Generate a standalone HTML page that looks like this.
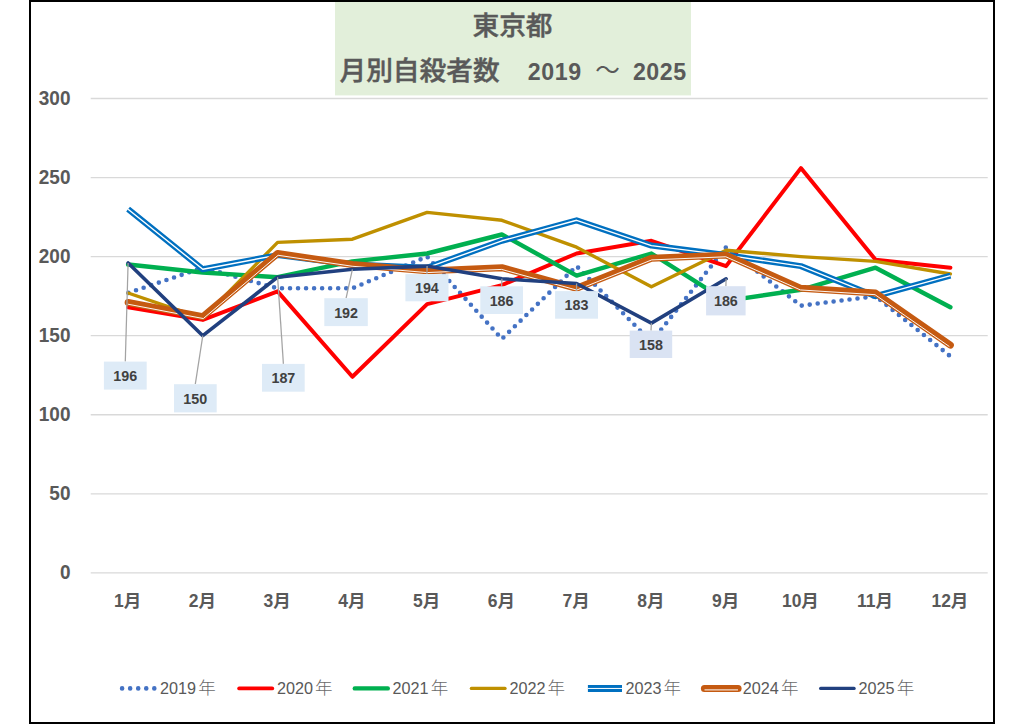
<!DOCTYPE html>
<html lang="ja"><head><meta charset="utf-8"><title>東京都 月別自殺者数 2019 ～ 2025</title>
<style>
html,body{margin:0;padding:0;background:#fff;}
body{width:1024px;height:724px;overflow:hidden;position:relative;}
svg{display:block;position:absolute;left:0;top:0;}
text{font-family:"Liberation Sans","Noto Sans CJK JP",sans-serif;}
</style></head><body>
<svg width="1024" height="724" viewBox="0 0 1024 724">
<rect x="0" y="0" width="1024" height="724" fill="#fff"/>

<rect x="335" y="2" width="356" height="93.4" fill="#e2efda"/>
<text x="512.5" y="34.5" text-anchor="middle" font-size="26.7" font-weight="500" fill="#595959" stroke="#595959" stroke-width="0.45">東京都</text>
<text x="339.5" y="79.5" font-size="26.7" font-weight="500" fill="#595959" stroke="#595959" stroke-width="0.45">月別自殺者数</text>
<text x="527.8" y="80" font-size="23.2" letter-spacing="0.55" font-weight="bold" fill="#595959">2019</text>
<text x="595.3" y="78.8" font-size="24.6" fill="#595959">～</text>
<text x="632.9" y="80" font-size="23.2" letter-spacing="0.55" font-weight="bold" fill="#595959">2025</text>
<line x1="90.7" y1="572.90" x2="987.7" y2="572.90" stroke="#d9d9d9" stroke-width="1.3"/>
<text transform="translate(70.5 579.3) scale(1 1.08)" text-anchor="end" font-size="19" font-weight="bold" fill="#595959">0</text>
<line x1="90.7" y1="493.83" x2="987.7" y2="493.83" stroke="#d9d9d9" stroke-width="1.3"/>
<text transform="translate(70.5 500.2) scale(1 1.08)" text-anchor="end" font-size="19" font-weight="bold" fill="#595959">50</text>
<line x1="90.7" y1="414.77" x2="987.7" y2="414.77" stroke="#d9d9d9" stroke-width="1.3"/>
<text transform="translate(70.5 421.2) scale(1 1.08)" text-anchor="end" font-size="19" font-weight="bold" fill="#595959">100</text>
<line x1="90.7" y1="335.70" x2="987.7" y2="335.70" stroke="#d9d9d9" stroke-width="1.3"/>
<text transform="translate(70.5 342.1) scale(1 1.08)" text-anchor="end" font-size="19" font-weight="bold" fill="#595959">150</text>
<line x1="90.7" y1="256.64" x2="987.7" y2="256.64" stroke="#d9d9d9" stroke-width="1.3"/>
<text transform="translate(70.5 263.0) scale(1 1.08)" text-anchor="end" font-size="19" font-weight="bold" fill="#595959">200</text>
<line x1="90.7" y1="177.57" x2="987.7" y2="177.57" stroke="#d9d9d9" stroke-width="1.3"/>
<text transform="translate(70.5 184.0) scale(1 1.08)" text-anchor="end" font-size="19" font-weight="bold" fill="#595959">250</text>
<line x1="90.7" y1="98.51" x2="987.7" y2="98.51" stroke="#d9d9d9" stroke-width="1.3"/>
<text transform="translate(70.5 104.9) scale(1 1.08)" text-anchor="end" font-size="19" font-weight="bold" fill="#595959">300</text>
<text x="127.6" y="606.6" text-anchor="middle" font-size="17.5" font-weight="bold" fill="#595959">1月</text>
<text x="202.3" y="606.6" text-anchor="middle" font-size="17.5" font-weight="bold" fill="#595959">2月</text>
<text x="277.1" y="606.6" text-anchor="middle" font-size="17.5" font-weight="bold" fill="#595959">3月</text>
<text x="351.9" y="606.6" text-anchor="middle" font-size="17.5" font-weight="bold" fill="#595959">4月</text>
<text x="426.6" y="606.6" text-anchor="middle" font-size="17.5" font-weight="bold" fill="#595959">5月</text>
<text x="501.4" y="606.6" text-anchor="middle" font-size="17.5" font-weight="bold" fill="#595959">6月</text>
<text x="576.1" y="606.6" text-anchor="middle" font-size="17.5" font-weight="bold" fill="#595959">7月</text>
<text x="650.9" y="606.6" text-anchor="middle" font-size="17.5" font-weight="bold" fill="#595959">8月</text>
<text x="725.6" y="606.6" text-anchor="middle" font-size="17.5" font-weight="bold" fill="#595959">9月</text>
<text x="800.4" y="606.6" text-anchor="middle" font-size="17.5" font-weight="bold" fill="#595959">10月</text>
<text x="875.1" y="606.6" text-anchor="middle" font-size="17.5" font-weight="bold" fill="#595959">11月</text>
<text x="949.9" y="606.6" text-anchor="middle" font-size="17.5" font-weight="bold" fill="#595959">12月</text>
<polyline points="128.1,293.0 202.8,267.7 277.6,288.3 352.4,288.3 427.1,256.6 501.9,338.9 576.6,266.1 651.4,342.0 726.1,247.2 800.9,305.7 875.6,296.2 950.4,356.3" fill="none" stroke-linejoin="round" stroke-linecap="round" stroke="#4472c4" stroke-width="4.6" stroke-dasharray="0 8.025" stroke-dashoffset="-0.35"/>
<polyline points="128.1,307.2 202.8,319.9 277.6,291.4 352.4,376.8 427.1,304.1 501.9,285.1 576.6,253.5 651.4,240.8 726.1,266.1 800.9,168.1 875.6,259.8 950.4,267.7" fill="none" stroke-linejoin="round" stroke-linecap="round" stroke="#ff0000" stroke-width="4.0"/>
<polyline points="128.1,264.5 202.8,272.5 277.6,277.2 352.4,261.4 427.1,253.5 501.9,234.5 576.6,275.6 651.4,253.5 726.1,300.9 800.9,289.8 875.6,267.7 950.4,307.2" fill="none" stroke-linejoin="round" stroke-linecap="round" stroke="#00b050" stroke-width="4.4"/>
<polyline points="128.1,293.0 202.8,318.3 277.6,242.4 352.4,239.2 427.1,212.4 501.9,220.3 576.6,247.2 651.4,286.7 726.1,250.3 800.9,256.6 875.6,261.4 950.4,274.0" fill="none" stroke-linejoin="round" stroke-linecap="round" stroke="#bf9000" stroke-width="3.4"/>
<polyline points="128.1,209.2 202.8,269.3 277.6,255.1 352.4,264.5 427.1,267.7 501.9,240.8 576.6,220.3 651.4,245.6 726.1,255.1 800.9,266.1 875.6,296.2 950.4,275.6" fill="none" stroke="#0070c0" stroke-width="6" stroke-linejoin="round" stroke-linecap="butt"/>
<polyline points="128.1,209.2 202.8,269.3 277.6,255.1 352.4,264.5 427.1,267.7 501.9,240.8 576.6,220.3 651.4,245.6 726.1,255.1 800.9,266.1 875.6,296.2 950.4,275.6" fill="none" stroke="#ffffff" stroke-width="1.4" stroke-linejoin="round" stroke-linecap="butt"/>
<polyline points="128.1,302.5 202.8,316.7 277.6,253.5 352.4,264.5 427.1,270.9 501.9,267.7 576.6,288.3 651.4,258.2 726.1,255.1 800.9,288.3 875.6,293.0 950.4,345.2" fill="none" stroke-linejoin="round" stroke-linecap="round" stroke="#c55a11" stroke-width="6.9"/>
<polyline points="127.78,304.17 203.33,318.55 278.11,255.27 352.15,266.24 427.06,272.57 501.66,269.42 576.70,290.06 651.71,259.91 725.77,256.77 800.44,289.94 875.02,294.68 949.38,346.59" fill="none" stroke="#ffffff" stroke-width="1.0" stroke-opacity="0.95" stroke-linejoin="round"/>
<polyline points="128.1,263.0 202.8,335.7 277.6,277.2 352.4,269.3 427.1,266.1 501.9,278.8 576.6,283.5 651.4,323.1 726.1,278.8" fill="none" stroke-linejoin="round" stroke-linecap="round" stroke="#21407f" stroke-width="3.6"/>
<line x1="125.3" y1="361.6" x2="128.1" y2="263.0" stroke="#a3a3a3" stroke-width="1.25"/>
<line x1="195.3" y1="384.2" x2="202.8" y2="335.7" stroke="#a3a3a3" stroke-width="1.25"/>
<line x1="283.4" y1="363.9" x2="277.6" y2="277.2" stroke="#a3a3a3" stroke-width="1.25"/>
<line x1="346.1" y1="298.2" x2="352.4" y2="269.3" stroke="#a3a3a3" stroke-width="1.25"/>
<line x1="426.9" y1="274.1" x2="427.1" y2="266.1" stroke="#a3a3a3" stroke-width="1.25"/>
<line x1="501.6" y1="286.3" x2="501.9" y2="278.8" stroke="#a3a3a3" stroke-width="1.25"/>
<line x1="576.5" y1="291.1" x2="576.6" y2="283.5" stroke="#a3a3a3" stroke-width="1.25"/>
<line x1="651.0" y1="330.6" x2="651.4" y2="323.1" stroke="#a3a3a3" stroke-width="1.25"/>
<line x1="725.9" y1="286.2" x2="726.1" y2="278.8" stroke="#a3a3a3" stroke-width="1.25"/>
<rect x="103.9" y="361.6" width="42.8" height="28.0" fill="#deebf7"/>
<text x="125.3" y="381.1" text-anchor="middle" font-size="14.3" font-weight="bold" fill="#404040">196</text>
<rect x="174.0" y="384.2" width="42.7" height="28.2" fill="#deebf7"/>
<text x="195.3" y="403.8" text-anchor="middle" font-size="14.3" font-weight="bold" fill="#404040">150</text>
<rect x="262.0" y="363.9" width="42.7" height="27.8" fill="#deebf7"/>
<text x="283.4" y="383.3" text-anchor="middle" font-size="14.3" font-weight="bold" fill="#404040">187</text>
<rect x="324.3" y="298.2" width="43.5" height="27.9" fill="#deebf7"/>
<text x="346.1" y="317.6" text-anchor="middle" font-size="14.3" font-weight="bold" fill="#404040">192</text>
<rect x="405.4" y="274.1" width="43.1" height="27.2" fill="#deebf7"/>
<text x="426.9" y="293.2" text-anchor="middle" font-size="14.3" font-weight="bold" fill="#404040">194</text>
<rect x="480.3" y="286.3" width="42.7" height="27.7" fill="#deebf7"/>
<text x="501.6" y="305.6" text-anchor="middle" font-size="14.3" font-weight="bold" fill="#404040">186</text>
<rect x="555.1" y="291.1" width="42.9" height="27.6" fill="#deebf7"/>
<text x="576.5" y="310.4" text-anchor="middle" font-size="14.3" font-weight="bold" fill="#404040">183</text>
<rect x="629.7" y="330.6" width="42.5" height="27.4" fill="#dae3f3"/>
<text x="651.0" y="349.8" text-anchor="middle" font-size="14.3" font-weight="bold" fill="#404040">158</text>
<rect x="706.1" y="286.2" width="39.5" height="29.2" fill="#dae3f3"/>
<text x="725.9" y="306.3" text-anchor="middle" font-size="14.3" font-weight="bold" fill="#404040">186</text>
<line x1="122.1" y1="688.4" x2="157.3" y2="688.4" stroke="#4472c4" stroke-width="4.6" stroke-linecap="round" stroke-dasharray="0 8.05"/>
<text x="160.0" y="694.2" font-size="16.2" fill="#595959">2019<tspan dx="2.2" font-size="17.5" font-weight="300" fill="#6a6a6a">年</tspan></text>
<line x1="239.2" y1="688.4" x2="272.2" y2="688.4" stroke="#ff0000" stroke-width="3.9" stroke-linecap="round"/>
<text x="276.9" y="694.2" font-size="16.2" fill="#595959">2020<tspan dx="2.2" font-size="17.5" font-weight="300" fill="#6a6a6a">年</tspan></text>
<line x1="354.8" y1="688.4" x2="387.8" y2="688.4" stroke="#00b050" stroke-width="4.4" stroke-linecap="round"/>
<text x="392.5" y="694.2" font-size="16.2" fill="#595959">2021<tspan dx="2.2" font-size="17.5" font-weight="300" fill="#6a6a6a">年</tspan></text>
<line x1="471.4" y1="688.4" x2="505.0" y2="688.4" stroke="#bf9000" stroke-width="3.4" stroke-linecap="round"/>
<text x="509.4" y="694.2" font-size="16.2" fill="#595959">2022<tspan dx="2.2" font-size="17.5" font-weight="300" fill="#6a6a6a">年</tspan></text>
<line x1="587.9" y1="688.4499999999999" x2="622.0" y2="688.4499999999999" stroke="#0070c0" stroke-width="7.0"/>
<line x1="587.9" y1="688.4499999999999" x2="622.0" y2="688.4499999999999" stroke="#fff" stroke-width="1.0"/>
<text x="625.4" y="694.2" font-size="16.2" fill="#595959">2023<tspan dx="2.2" font-size="17.5" font-weight="300" fill="#6a6a6a">年</tspan></text>
<line x1="704.4" y1="688.4499999999999" x2="738.1" y2="688.4499999999999" stroke="#c55a11" stroke-width="7.0" stroke-linecap="round"/>
<line x1="704.5" y1="689.8" x2="738.0" y2="689.8" stroke="#fff" stroke-width="1.2" stroke-opacity="0.8"/>
<text x="742.7" y="694.2" font-size="16.2" fill="#595959">2024<tspan dx="2.2" font-size="17.5" font-weight="300" fill="#6a6a6a">年</tspan></text>
<line x1="820.7" y1="688.4" x2="854.1" y2="688.4" stroke="#21407f" stroke-width="3.3" stroke-linecap="round"/>
<text x="858.6" y="694.2" font-size="16.2" fill="#595959">2025<tspan dx="2.2" font-size="17.5" font-weight="300" fill="#6a6a6a">年</tspan></text>
<rect x="30" y="1" width="964" height="722" fill="none" stroke="#000" stroke-width="2"/>
</svg>
</body></html>
